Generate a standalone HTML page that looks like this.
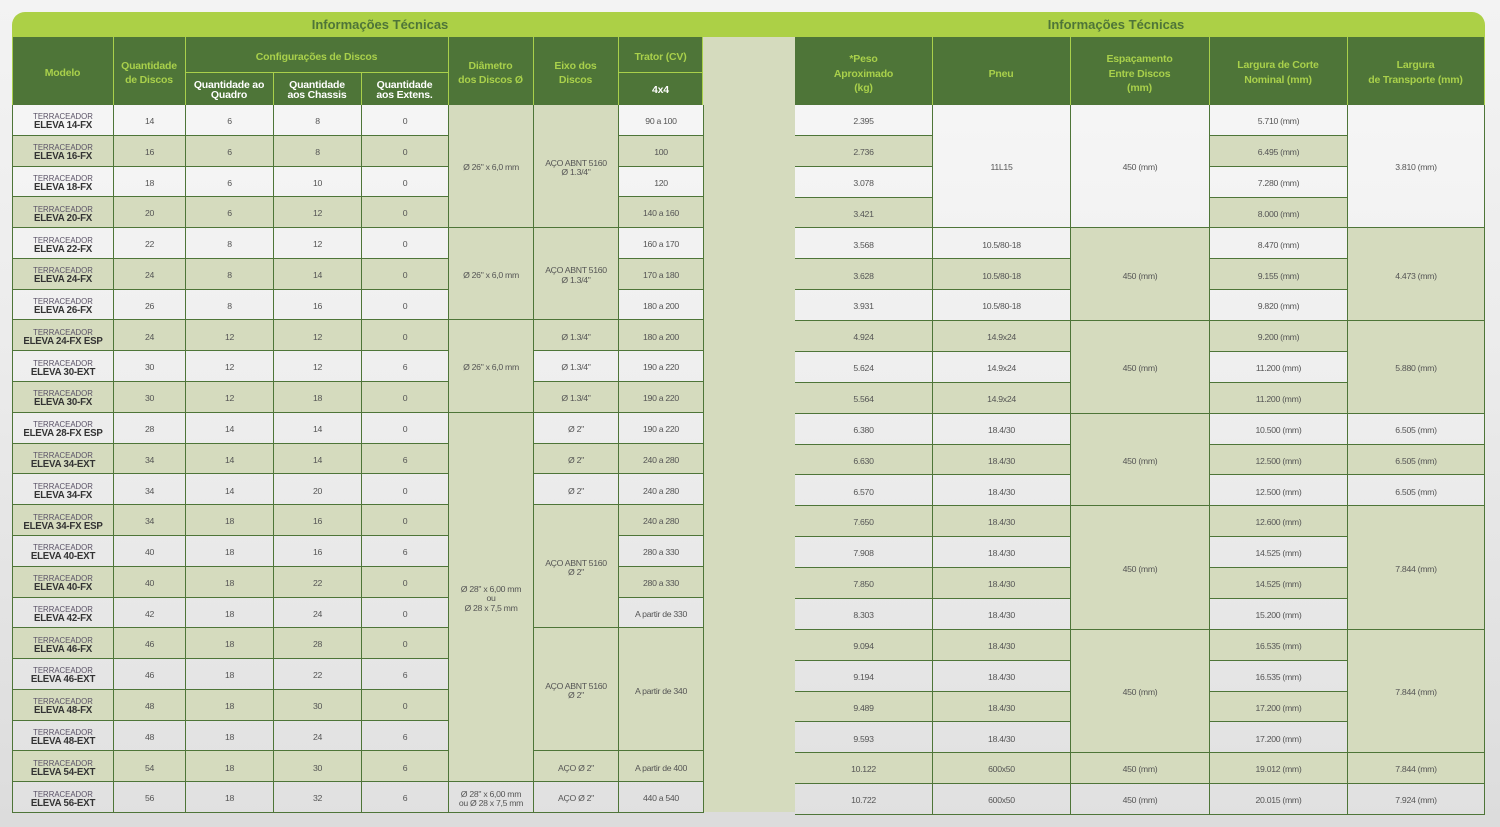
<!DOCTYPE html>
<html><head><meta charset="utf-8">
<style>
*{margin:0;padding:0;box-sizing:border-box}
html,body{width:1500px;height:827px;overflow:hidden}
body{background:linear-gradient(180deg,#f3f3f3 0%,#ececec 40%,#dcdcdc 100%);font-family:"Liberation Sans",sans-serif;position:relative}
.ban{position:absolute;left:12px;top:12px;width:1473px;height:25px;background:#acd046;border-radius:13px 13px 0 0}
.tt{position:absolute;top:12px;width:300px;height:25px;line-height:25px;font-weight:bold;font-size:13px;color:#4e7538;white-space:nowrap;text-align:center}
.hd{position:absolute;top:37px;height:68px;background:#4e7538}
.sp{position:absolute;left:703px;top:37px;width:92px;height:775px;background:#d5dbbe}
.hc{position:absolute;display:flex;align-items:center;justify-content:center;text-align:center;font-weight:bold;font-size:10.5px;color:#a9d04b;line-height:14.5px;letter-spacing:-0.2px;white-space:nowrap}
.wh{color:#fff;line-height:10px}
.vl{position:absolute;width:1px;background:#a9d04b}
.hl{position:absolute;height:1px;background:#a9d04b}
.grid{position:absolute;display:grid;gap:1px;background:#4e7538;grid-template-rows:repeat(23,1fr)}
.grid>div{display:flex;align-items:center;justify-content:center;text-align:center;font-size:8.7px;color:#555;line-height:9.5px;letter-spacing:-0.3px;white-space:nowrap;padding-top:4px}
.grid>.w{background:linear-gradient(180deg,#f8f8f8 0px,#eeeeee 400px,#e0e0e0 827px) fixed}
.grid>.g{background:#d5dbbe}
.grid>.m{flex-direction:column}
.m span{display:block;font-size:7.8px;color:#5a5266;line-height:9px;letter-spacing:0}
.m b{display:block;font-size:9.7px;color:#333;line-height:10px;letter-spacing:-0.2px}
.s3{grid-row:span 3}.s4{grid-row:span 4}.s12{grid-row:span 12}
.lt{left:12px;top:105px;width:692px;height:708px;padding:0 1px 1px 1px;grid-template-columns:100px 71px 87px 87px 86px 84px 84px 84px}
.rt{left:795px;top:105px;width:690px;height:710px;padding:0 1px 1px 0;grid-template-columns:137px 137px 138px 137px 136px}
</style></head><body>
<div class="ban"></div>
<div class="tt" style="left:230px">Informações Técnicas</div>
<div class="tt" style="left:966px">Informações Técnicas</div>

<div class="sp"></div>

<div class="hd" style="left:12px;width:691px"></div>
<div class="hd" style="left:795px;width:690px"></div>

<div class="vl" style="left:12px;top:37px;height:68px"></div>
<div class="vl" style="left:113px;top:37px;height:68px"></div>
<div class="vl" style="left:185px;top:37px;height:68px"></div>
<div class="vl" style="left:273px;top:72px;height:33px"></div>
<div class="vl" style="left:361px;top:72px;height:33px"></div>
<div class="vl" style="left:448px;top:37px;height:68px"></div>
<div class="vl" style="left:533px;top:37px;height:68px"></div>
<div class="vl" style="left:618px;top:37px;height:68px"></div>
<div class="vl" style="left:702px;top:37px;height:68px"></div>
<div class="hl" style="left:185px;top:72px;width:263px"></div>
<div class="hl" style="left:618px;top:72px;width:85px"></div>
<div class="vl" style="left:932px;top:37px;height:68px"></div>
<div class="vl" style="left:1070px;top:37px;height:68px"></div>
<div class="vl" style="left:1209px;top:37px;height:68px"></div>
<div class="vl" style="left:1347px;top:37px;height:68px"></div>
<div class="vl" style="left:1484px;top:37px;height:68px"></div>

<div class="hc" style="left:12px;top:39px;width:101px;height:68px">Modelo</div>
<div class="hc" style="left:113px;top:39px;width:72px;height:68px;line-height:14px">Quantidade<br>de Discos</div>
<div class="hc" style="left:185px;top:39px;width:263px;height:36px">Configurações de Discos</div>
<div class="hc wh" style="left:185px;top:73px;width:88px;height:34px">Quantidade ao<br>Quadro</div>
<div class="hc wh" style="left:273px;top:73px;width:88px;height:34px">Quantidade<br>aos Chassis</div>
<div class="hc wh" style="left:361px;top:73px;width:87px;height:34px">Quantidade<br>aos Extens.</div>
<div class="hc" style="left:448px;top:39px;width:85px;height:68px;line-height:14px">Diâmetro<br>dos Discos Ø</div>
<div class="hc" style="left:533px;top:39px;width:85px;height:68px;line-height:14px">Eixo dos<br>Discos</div>
<div class="hc" style="left:618px;top:40px;width:85px;height:35px">Trator (CV)</div>
<div class="hc wh" style="left:618px;top:73px;width:85px;height:34px">4x4</div>

<div class="hc" style="left:795px;top:39px;width:137px;height:70px">*Peso<br>Aproximado<br>(kg)</div>
<div class="hc" style="left:932px;top:39px;width:138px;height:70px">Pneu</div>
<div class="hc" style="left:1070px;top:39px;width:139px;height:70px">Espaçamento<br>Entre Discos<br>(mm)</div>
<div class="hc" style="left:1209px;top:38px;width:138px;height:70px;line-height:15px">Largura de Corte<br>Nominal (mm)</div>
<div class="hc" style="left:1347px;top:38px;width:137px;height:70px;line-height:15px">Largura<br>de Transporte (mm)</div>

<div class="grid lt">
<div class="w m"><span>TERRACEADOR</span><b>ELEVA 14-FX</b></div><div class="w">14</div><div class="w">6</div><div class="w">8</div><div class="w">0</div><div class="g s4">Ø 26" x 6,0 mm</div><div class="g s4">AÇO ABNT 5160<br>Ø 1.3/4"</div><div class="w">90 a 100</div>
<div class="g m"><span>TERRACEADOR</span><b>ELEVA 16-FX</b></div><div class="g">16</div><div class="g">6</div><div class="g">8</div><div class="g">0</div><div class="g">100</div>
<div class="w m"><span>TERRACEADOR</span><b>ELEVA 18-FX</b></div><div class="w">18</div><div class="w">6</div><div class="w">10</div><div class="w">0</div><div class="w">120</div>
<div class="g m"><span>TERRACEADOR</span><b>ELEVA 20-FX</b></div><div class="g">20</div><div class="g">6</div><div class="g">12</div><div class="g">0</div><div class="g">140 a 160</div>
<div class="w m"><span>TERRACEADOR</span><b>ELEVA 22-FX</b></div><div class="w">22</div><div class="w">8</div><div class="w">12</div><div class="w">0</div><div class="g s3">Ø 26" x 6,0 mm</div><div class="g s3">AÇO ABNT 5160<br>Ø 1.3/4"</div><div class="w">160 a 170</div>
<div class="g m"><span>TERRACEADOR</span><b>ELEVA 24-FX</b></div><div class="g">24</div><div class="g">8</div><div class="g">14</div><div class="g">0</div><div class="g">170 a 180</div>
<div class="w m"><span>TERRACEADOR</span><b>ELEVA 26-FX</b></div><div class="w">26</div><div class="w">8</div><div class="w">16</div><div class="w">0</div><div class="w">180 a 200</div>
<div class="g m"><span>TERRACEADOR</span><b>ELEVA 24-FX ESP</b></div><div class="g">24</div><div class="g">12</div><div class="g">12</div><div class="g">0</div><div class="g s3">Ø 26" x 6,0 mm</div><div class="g">Ø 1.3/4"</div><div class="g">180 a 200</div>
<div class="w m"><span>TERRACEADOR</span><b>ELEVA 30-EXT</b></div><div class="w">30</div><div class="w">12</div><div class="w">12</div><div class="w">6</div><div class="w">Ø 1.3/4"</div><div class="w">190 a 220</div>
<div class="g m"><span>TERRACEADOR</span><b>ELEVA 30-FX</b></div><div class="g">30</div><div class="g">12</div><div class="g">18</div><div class="g">0</div><div class="g">Ø 1.3/4"</div><div class="g">190 a 220</div>
<div class="w m"><span>TERRACEADOR</span><b>ELEVA 28-FX ESP</b></div><div class="w">28</div><div class="w">14</div><div class="w">14</div><div class="w">0</div><div class="g s12">Ø 28" x 6,00 mm<br>ou<br>Ø 28 x 7,5 mm</div><div class="w">Ø 2"</div><div class="w">190 a 220</div>
<div class="g m"><span>TERRACEADOR</span><b>ELEVA 34-EXT</b></div><div class="g">34</div><div class="g">14</div><div class="g">14</div><div class="g">6</div><div class="g">Ø 2"</div><div class="g">240 a 280</div>
<div class="w m"><span>TERRACEADOR</span><b>ELEVA 34-FX</b></div><div class="w">34</div><div class="w">14</div><div class="w">20</div><div class="w">0</div><div class="w">Ø 2"</div><div class="w">240 a 280</div>
<div class="g m"><span>TERRACEADOR</span><b>ELEVA 34-FX ESP</b></div><div class="g">34</div><div class="g">18</div><div class="g">16</div><div class="g">0</div><div class="g s4">AÇO ABNT 5160<br>Ø 2"</div><div class="g">240 a 280</div>
<div class="w m"><span>TERRACEADOR</span><b>ELEVA 40-EXT</b></div><div class="w">40</div><div class="w">18</div><div class="w">16</div><div class="w">6</div><div class="w">280 a 330</div>
<div class="g m"><span>TERRACEADOR</span><b>ELEVA 40-FX</b></div><div class="g">40</div><div class="g">18</div><div class="g">22</div><div class="g">0</div><div class="g">280 a 330</div>
<div class="w m"><span>TERRACEADOR</span><b>ELEVA 42-FX</b></div><div class="w">42</div><div class="w">18</div><div class="w">24</div><div class="w">0</div><div class="w">A partir de 330</div>
<div class="g m"><span>TERRACEADOR</span><b>ELEVA 46-FX</b></div><div class="g">46</div><div class="g">18</div><div class="g">28</div><div class="g">0</div><div class="g s4">AÇO ABNT 5160<br>Ø 2"</div><div class="g s4">A partir de 340</div>
<div class="w m"><span>TERRACEADOR</span><b>ELEVA 46-EXT</b></div><div class="w">46</div><div class="w">18</div><div class="w">22</div><div class="w">6</div>
<div class="g m"><span>TERRACEADOR</span><b>ELEVA 48-FX</b></div><div class="g">48</div><div class="g">18</div><div class="g">30</div><div class="g">0</div>
<div class="w m"><span>TERRACEADOR</span><b>ELEVA 48-EXT</b></div><div class="w">48</div><div class="w">18</div><div class="w">24</div><div class="w">6</div>
<div class="g m"><span>TERRACEADOR</span><b>ELEVA 54-EXT</b></div><div class="g">54</div><div class="g">18</div><div class="g">30</div><div class="g">6</div><div class="g">AÇO Ø 2"</div><div class="g">A partir de 400</div>
<div class="w m"><span>TERRACEADOR</span><b>ELEVA 56-EXT</b></div><div class="w">56</div><div class="w">18</div><div class="w">32</div><div class="w">6</div><div class="w">Ø 28" x 6,00 mm<br>ou Ø 28 x 7,5 mm</div><div class="w">AÇO Ø 2"</div><div class="w">440 a 540</div>
</div>

<div class="grid rt">
<div class="w">2.395</div><div class="w s4">11L15</div><div class="w s4">450 (mm)</div><div class="w">5.710 (mm)</div><div class="w s4">3.810 (mm)</div>
<div class="g">2.736</div><div class="g">6.495 (mm)</div>
<div class="w">3.078</div><div class="w">7.280 (mm)</div>
<div class="g">3.421</div><div class="g">8.000 (mm)</div>
<div class="w">3.568</div><div class="w">10.5/80-18</div><div class="g s3">450 (mm)</div><div class="w">8.470 (mm)</div><div class="g s3">4.473 (mm)</div>
<div class="g">3.628</div><div class="g">10.5/80-18</div><div class="g">9.155 (mm)</div>
<div class="w">3.931</div><div class="w">10.5/80-18</div><div class="w">9.820 (mm)</div>
<div class="g">4.924</div><div class="g">14.9x24</div><div class="g s3">450 (mm)</div><div class="g">9.200 (mm)</div><div class="g s3">5.880 (mm)</div>
<div class="w">5.624</div><div class="w">14.9x24</div><div class="w">11.200 (mm)</div>
<div class="g">5.564</div><div class="g">14.9x24</div><div class="g">11.200 (mm)</div>
<div class="w">6.380</div><div class="w">18.4/30</div><div class="g s3">450 (mm)</div><div class="w">10.500 (mm)</div><div class="w">6.505 (mm)</div>
<div class="g">6.630</div><div class="g">18.4/30</div><div class="g">12.500 (mm)</div><div class="g">6.505 (mm)</div>
<div class="w">6.570</div><div class="w">18.4/30</div><div class="w">12.500 (mm)</div><div class="w">6.505 (mm)</div>
<div class="g">7.650</div><div class="g">18.4/30</div><div class="g s4">450 (mm)</div><div class="g">12.600 (mm)</div><div class="g s4">7.844 (mm)</div>
<div class="w">7.908</div><div class="w">18.4/30</div><div class="w">14.525 (mm)</div>
<div class="g">7.850</div><div class="g">18.4/30</div><div class="g">14.525 (mm)</div>
<div class="w">8.303</div><div class="w">18.4/30</div><div class="w">15.200 (mm)</div>
<div class="g">9.094</div><div class="g">18.4/30</div><div class="g s4">450 (mm)</div><div class="g">16.535 (mm)</div><div class="g s4">7.844 (mm)</div>
<div class="w">9.194</div><div class="w">18.4/30</div><div class="w">16.535 (mm)</div>
<div class="g">9.489</div><div class="g">18.4/30</div><div class="g">17.200 (mm)</div>
<div class="w">9.593</div><div class="w">18.4/30</div><div class="w">17.200 (mm)</div>
<div class="g">10.122</div><div class="g">600x50</div><div class="g">450 (mm)</div><div class="g">19.012 (mm)</div><div class="g">7.844 (mm)</div>
<div class="w">10.722</div><div class="w">600x50</div><div class="w">450 (mm)</div><div class="w">20.015 (mm)</div><div class="w">7.924 (mm)</div>
</div>
</body></html>
